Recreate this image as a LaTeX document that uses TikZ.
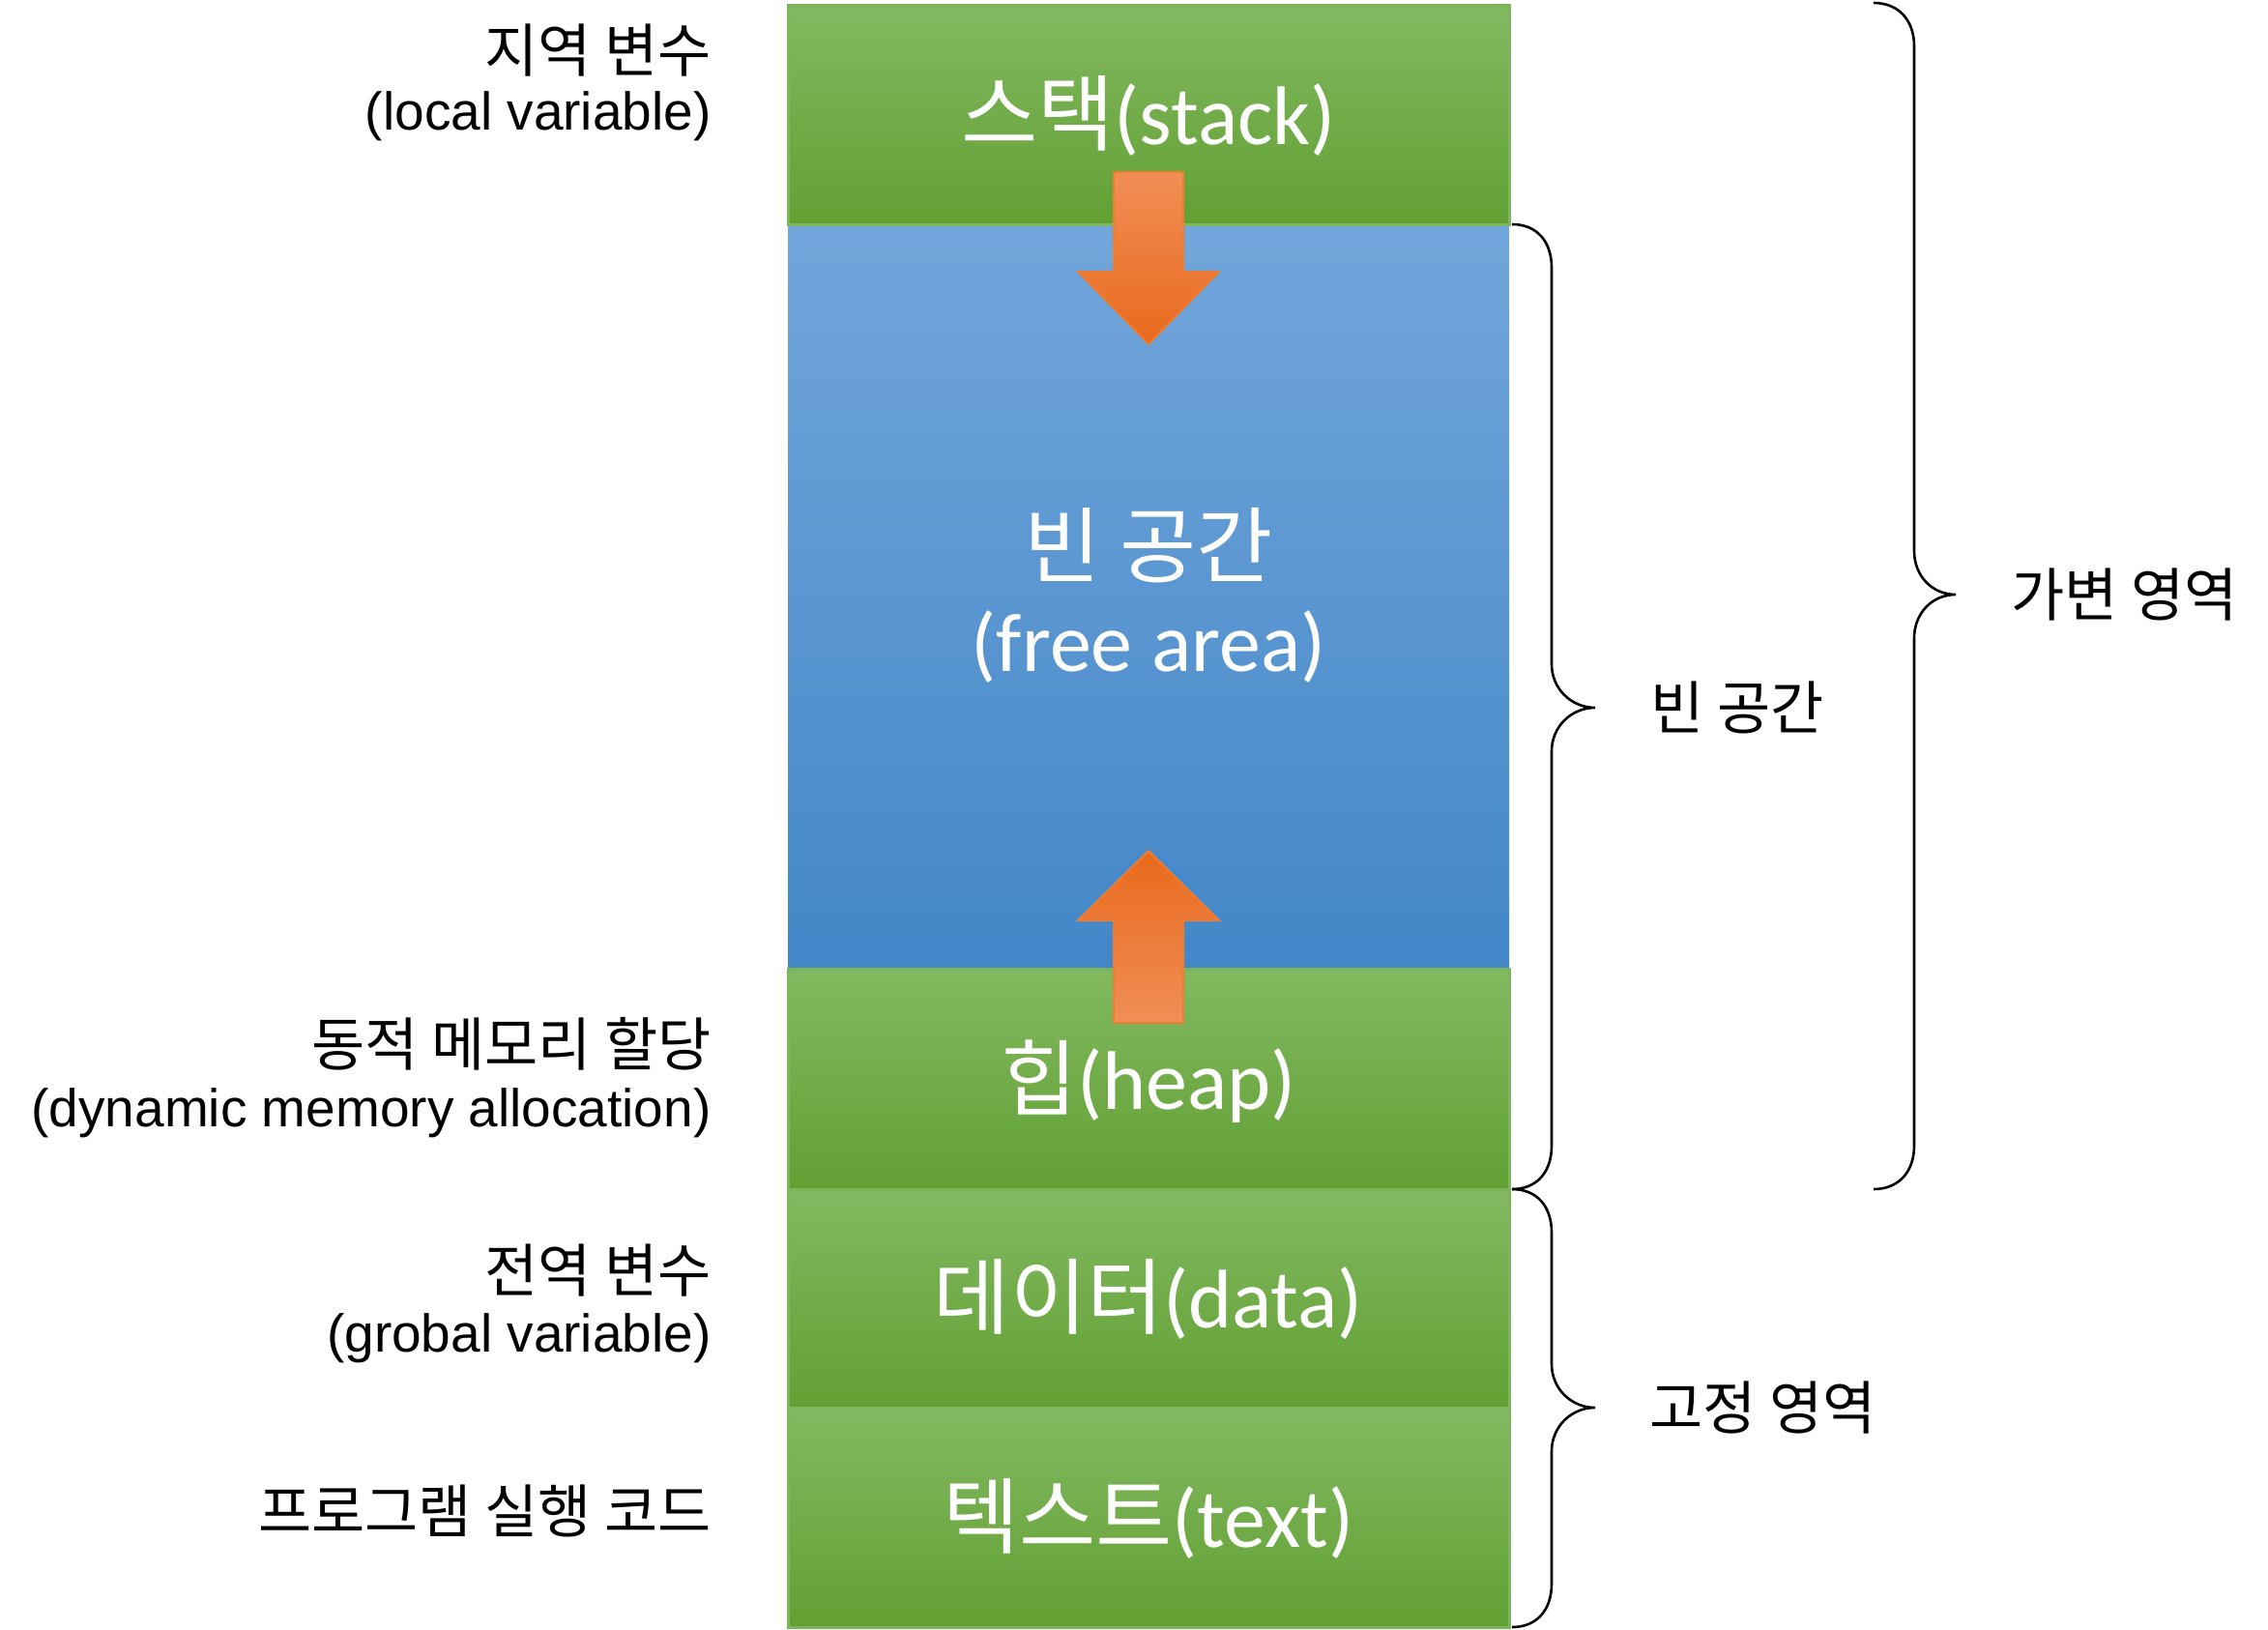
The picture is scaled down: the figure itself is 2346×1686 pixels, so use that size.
\documentclass[tikz,border=0pt]{standalone}
\usepackage{fontspec}
\setmainfont{Liberation Sans}
\newfontfamily\krfont{Noto Sans CJK KR}
\newfontfamily\calfont{Carlito}
\definecolor{gtop}{HTML}{82B961}
\definecolor{gbot}{HTML}{62A033}
\definecolor{gedge}{HTML}{7DB55C}
\definecolor{btop}{HTML}{72A6DB}
\definecolor{bbot}{HTML}{4387C8}
\definecolor{olight}{HTML}{F18E56}
\definecolor{odark}{HTML}{E8691C}
\definecolor{oedge}{HTML}{ED7D31}
\tikzset{
  greenband/.style={top color=gtop, bottom color=gbot, draw=gedge, line width=1.5},
  blueband/.style={top color=btop, bottom color=bbot},
  lbl/.style={anchor=east, inner sep=0pt, font=\fontsize{27.5}{32}\selectfont},
  lblkr/.style={anchor=east, inner sep=0pt, font=\krfont\fontsize{30}{34}\selectfont},
  rlbl/.style={anchor=west, inner sep=0pt, font=\krfont\fontsize{30}{34}\selectfont},
  coltext/.style={inner sep=0pt, text=white, font=\calfont\fontsize{43}{50}\selectfont},
  bracestyle/.style={draw=black, line width=1.3},
  arrowedge/.style={draw=oedge, line width=1}
}
\begin{document}
\begin{tikzpicture}[x=0.5pt,y=-0.5pt]
\useasboundingbox (0,0) rectangle (2346,1686);
\fill[white] (0,0) rectangle (2346,1686);

% column bands
\shade[blueband] (815,232) rectangle (1561,1002);
\shade[greenband] (815,6) rectangle (1561,232);
\shade[greenband] (815,1002) rectangle (1561,1230);
\shade[greenband] (815,1230) rectangle (1561,1456);
\shade[greenband] (815,1456) rectangle (1561,1683);

% arrows
\shade[top color=olight, bottom color=odark, arrowedge]
  (1152,178) -- (1224,178) -- (1224,281) -- (1261,281) -- (1188,356) -- (1115,281) -- (1152,281) -- cycle;
\shade[top color=odark, bottom color=olight, arrowedge]
  (1152,1058) -- (1224,1058) -- (1224,952) -- (1261,952) -- (1188,880) -- (1115,952) -- (1152,952) -- cycle;

% column texts
\node[coltext] (stack) at (1188,120) {{\krfont 스택}(stack)};
\node[coltext] (free1) at (1188,564) {{\krfont 빈 공간}};
\node[coltext] (free2) at (1188,669) {(free area)};
\node[coltext] (heap) at (1188,1119) {{\krfont 힙}(heap)};
\node[coltext] (data) at (1188,1344) {{\krfont 데이터}(data)};
\node[coltext] (text) at (1188,1571) {{\krfont 텍스트}(text)};

% left labels
\node[lblkr] (l1a) at (736,52) {지역 변수};
\node[lbl] (l1b) at (736,120) {(local variable)};
\node[lblkr] (l2a) at (736,1080) {동적 메모리 할당};
\node[lbl] (l2b) at (736,1151) {(dynamic memory allocation)};
\node[lblkr] (l3a) at (736,1314) {전역 변수};
\node[lbl] (l3b) at (736,1384) {(grobal variable)};
\node[lblkr] (l4a) at (736,1563) {프로그램 실행 코드};

% braces
\draw[bracestyle] (1564,232) .. controls (1590,232) and (1605,250) .. (1605,277)
  -- (1605,687) .. controls (1605,712) and (1625,732) .. (1650,732)
  .. controls (1625,732) and (1605,752) .. (1605,777)
  -- (1605,1185) .. controls (1605,1212) and (1590,1230) .. (1564,1230);
\draw[bracestyle] (1564,1230) .. controls (1590,1230) and (1605,1248) .. (1605,1275)
  -- (1605,1411) .. controls (1605,1436) and (1625,1456) .. (1650,1456)
  .. controls (1625,1456) and (1605,1476) .. (1605,1501)
  -- (1605,1638) .. controls (1605,1665) and (1590,1683) .. (1564,1683);
\draw[bracestyle] (1938,3) .. controls (1964,3) and (1980,21) .. (1980,48)
  -- (1980,570) .. controls (1980,595) and (1998,615) .. (2023,615)
  .. controls (1998,615) and (1980,635) .. (1980,660)
  -- (1980,1185) .. controls (1980,1212) and (1964,1230) .. (1938,1230);

% right labels
\node[rlbl] (r1) at (1707,732) {빈 공간};
\node[rlbl] (r2) at (2080,615) {가변 영역};
\node[rlbl] (r3) at (1706,1456) {고정 영역};
\end{tikzpicture}
\end{document}
